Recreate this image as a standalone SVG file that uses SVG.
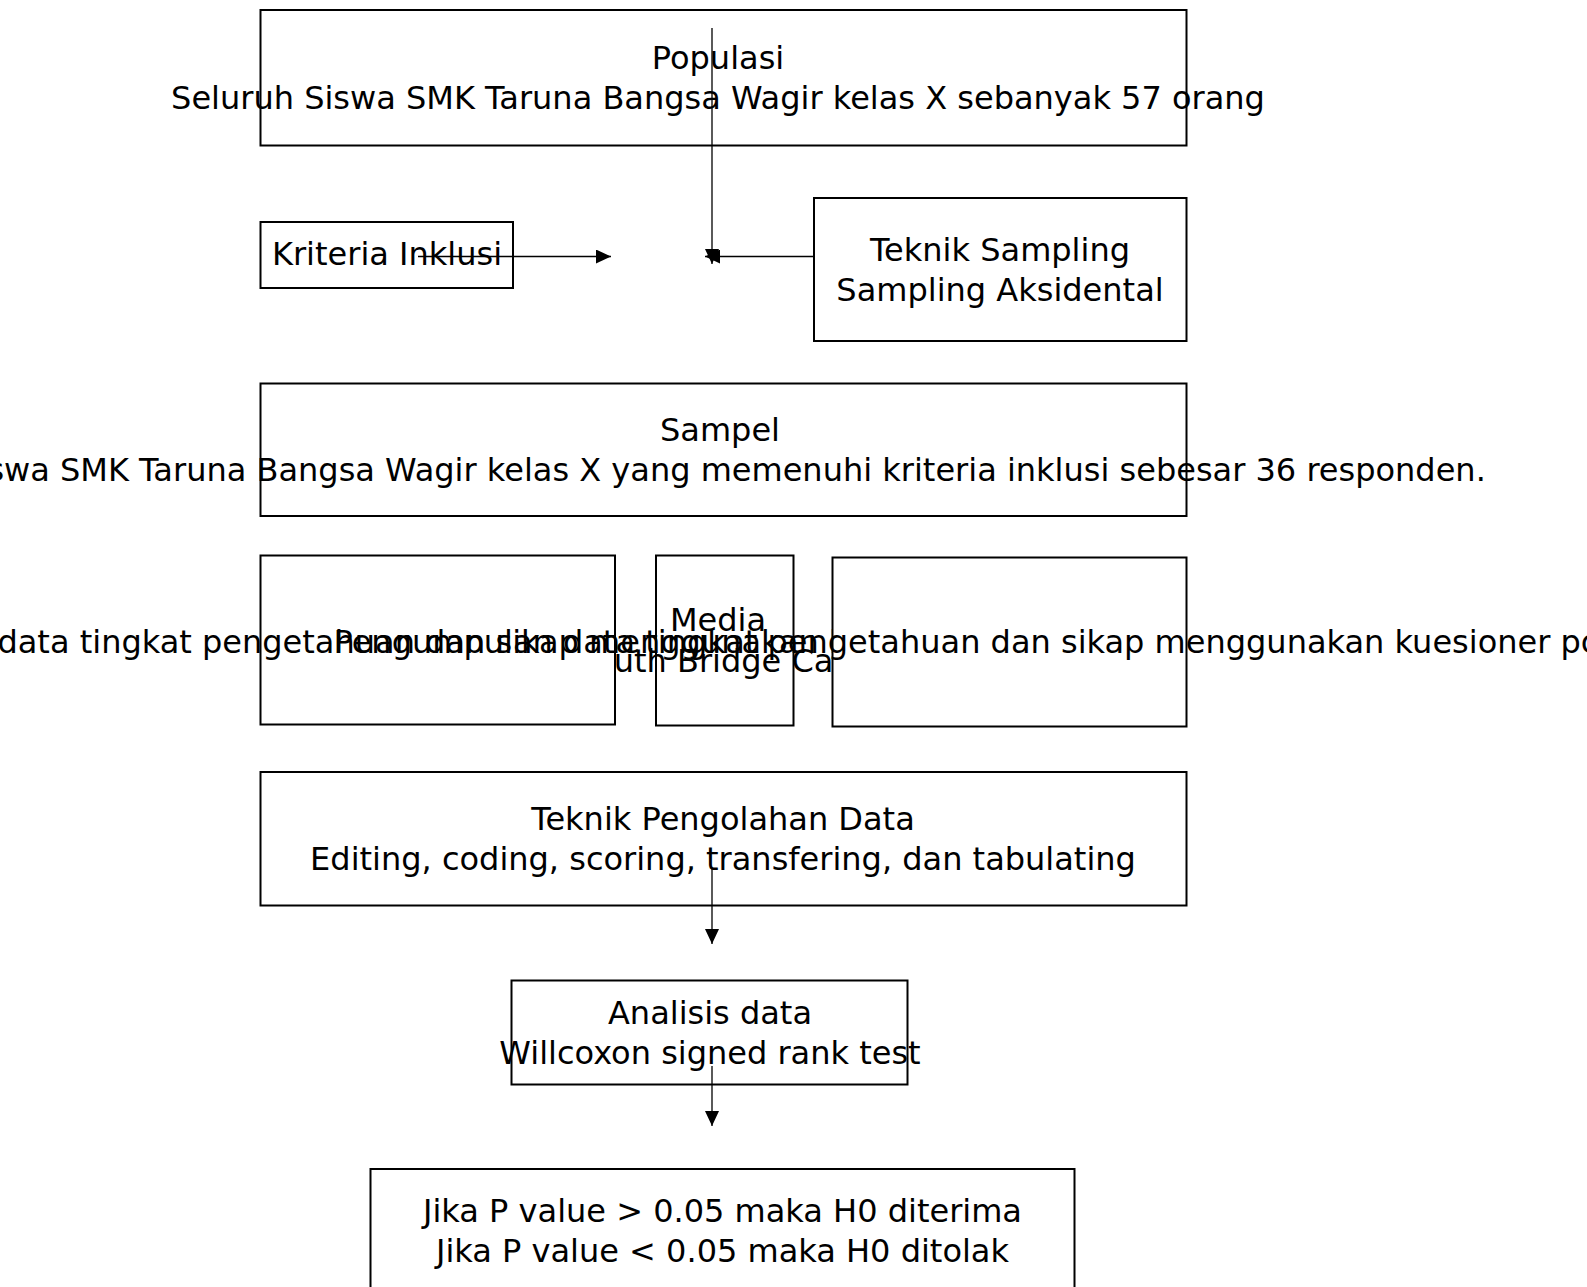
<svg xmlns="http://www.w3.org/2000/svg" width="1587" height="1287" viewBox="0 0 1587 1287">
<style>
.box{fill:#fff;stroke:#000;stroke-width:2}
.t{font-family:"DejaVu Sans",sans-serif;font-size:32px;fill:#000}
.m{text-anchor:middle}
.edge{fill:none;stroke:#000;stroke-width:1.3}
</style>
<defs>
<marker id="ah" markerWidth="15" markerHeight="14" refX="15" refY="7" orient="auto" markerUnits="userSpaceOnUse">
<path d="M0,0 L15,7 L0,14 z" fill="#000"/>
</marker>
</defs>
<rect width="1587" height="1287" fill="#fff"/>
<g id="populasi">
<rect class="box" x="260.5" y="10" width="926" height="135.5"/>
<text class="t m" x="718" y="68.5">Populasi</text>
<text class="t m" x="718" y="108.5">Seluruh Siswa SMK Taruna Bangsa Wagir kelas X sebanyak 57 orang</text>
</g>
<g id="kriteria">
<rect class="box" x="260.5" y="222" width="252.5" height="66"/>
<text class="t m" x="387" y="265">Kriteria Inklusi</text>
</g>
<g id="teknik-sampling">
<rect class="box" x="814" y="198" width="372.5" height="143"/>
<text class="t m" x="1000" y="260.5">Teknik Sampling</text>
<text class="t m" x="1000" y="301">Sampling Aksidental</text>
</g>
<g id="sampel">
<rect class="box" x="260.5" y="383.5" width="926" height="132.5"/>
<text class="t m" x="720" y="441">Sampel</text>
<text class="t m" x="722" y="480.5">Siswa SMK Taruna Bangsa Wagir kelas X yang memenuhi kriteria inklusi sebesar 36 responden.</text>
</g>
<g id="media">
<rect class="box" x="656" y="555.5" width="137.5" height="170"/>
<text class="t m" x="718" y="631">Media</text>
<text class="t m" x="726" y="671.5">Truth Bridge Card</text>
</g>
<g id="pretest">
<rect class="box" x="260.5" y="555.5" width="354.5" height="169"/>
<text class="t" x="-232" y="652.5">Pengumpulan data tingkat pengetahuan dan sikap menggunakan kuesioner pre-test</text>
</g>
<g id="posttest">
<rect class="box" x="832.5" y="557.5" width="354" height="169"/>
<text class="t" x="333.5" y="652.5">Pengumpulan data tingkat pengetahuan dan sikap menggunakan kuesioner post-test</text>
</g>
<g id="pengolahan">
<rect class="box" x="260.5" y="772" width="926" height="133.5"/>
<text class="t m" x="723" y="830">Teknik Pengolahan Data</text>
<text class="t m" x="723" y="869.5">Editing, coding, scoring, transfering, dan tabulating</text>
</g>
<g id="analisis">
<rect class="box" x="511.5" y="980.5" width="396" height="104"/>
<text class="t m" x="710" y="1023.5">Analisis data</text>
<text class="t m" x="710" y="1063.5">Willcoxon signed rank test</text>
</g>
<g id="hasil">
<rect class="box" x="370.5" y="1169" width="704" height="140"/>
<text class="t m" x="722.5" y="1222">Jika P value &gt; 0.05 maka H0 diterima</text>
<text class="t m" x="722.5" y="1261.5">Jika P value &lt; 0.05 maka H0 ditolak</text>
</g>
<g id="connectors">
<path class="edge" d="M712,28 L712,264" marker-end="url(#ah)"/>
<path class="edge" d="M418,256.5 L611,256.5" marker-end="url(#ah)"/>
<path class="edge" d="M814,256.5 L705,256.5" marker-end="url(#ah)"/>
<path class="edge" d="M712,869 L712,944" marker-end="url(#ah)"/>
<path class="edge" d="M712,1066 L712,1126" marker-end="url(#ah)"/>
</g>
</svg>
